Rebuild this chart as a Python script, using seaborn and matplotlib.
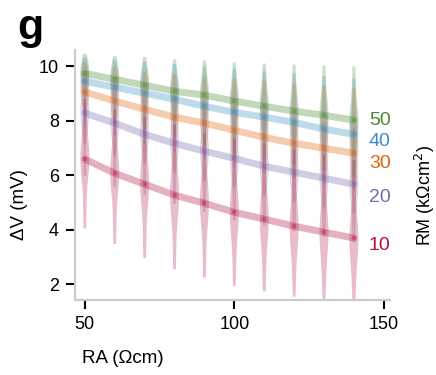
import numpy as np
import pandas as pd
import matplotlib
matplotlib.use("Agg")
import matplotlib.pyplot as plt
import seaborn as sns

sns.set_theme(style="ticks")
plt.rcParams["font.family"] = ["Liberation Sans", "DejaVu Sans"]
plt.rcParams["text.color"] = "black"
plt.rcParams["axes.labelcolor"] = "black"
plt.rcParams["xtick.color"] = "black"
plt.rcParams["ytick.color"] = "black"

# Axial resistance values (Ohm cm)
ra = [50, 60, 70, 80, 90, 100, 110, 120, 130, 140]
# Membrane resistance series (kOhm cm^2)
rm_levels = [10, 20, 30, 40, 50]

# Mean voltage deflection (mV) per RM series
mean_10 = [6.59, 6.07, 5.67, 5.27, 4.97, 4.64, 4.39, 4.13, 3.91, 3.69]
mean_20 = [8.28, 7.91, 7.50, 7.17, 6.88, 6.62, 6.33, 6.11, 5.89, 5.67]
mean_30 = [9.05, 8.72, 8.42, 8.13, 7.91, 7.65, 7.39, 7.17, 6.99, 6.81]
mean_40 = [9.45, 9.23, 9.01, 8.79, 8.53, 8.31, 8.13, 7.94, 7.69, 7.50]
mean_50 = [9.74, 9.52, 9.30, 9.08, 8.94, 8.72, 8.53, 8.35, 8.20, 8.02]

# Lowest and highest deflection in each distribution
low_10 = [4.45, 3.9, 3.4, 3.0, 2.7, 2.4, 2.2, 2.0, 1.82, 1.68]
high_10 = [8.4, 8.0, 7.7, 7.4, 7.1, 6.9, 6.7, 6.5, 6.3, 6.1]
low_20 = [6.3, 5.9, 5.6, 5.3, 5.0, 4.7, 4.5, 4.3, 4.1, 3.9]
high_20 = [9.4, 9.1, 8.8, 8.6, 8.4, 8.2, 8.0, 7.8, 7.6, 7.4]
low_30 = [7.4, 7.0, 6.7, 6.4, 6.1, 5.9, 5.6, 5.4, 5.2, 5.0]
high_30 = [9.9, 9.7, 9.5, 9.4, 9.3, 9.2, 9.1, 9.0, 8.9, 8.8]
low_40 = [8.0, 7.7, 7.4, 7.1, 6.9, 6.6, 6.4, 6.2, 6.0, 5.8]
high_40 = [10.1, 10.0, 9.9, 9.8, 9.7, 9.6, 9.5, 9.4, 9.3, 9.2]
low_50 = [8.4, 8.1, 7.8, 7.6, 7.4, 7.1, 6.9, 6.7, 6.5, 6.3]
high_50 = [10.25, 10.15, 10.1, 10.0, 9.95, 9.85, 9.8, 9.75, 9.7, 9.65]

means = [mean_10, mean_20, mean_30, mean_40, mean_50]
lows = [low_10, low_20, low_30, low_40, low_50]
highs = [high_10, high_20, high_30, high_40, high_50]

colors = {10: "#b3123c", 20: "#7a68ad", 30: "#e0640f", 40: "#3a8fc4", 50: "#4a8a2c"}

# Long-form tables
rows = []
mrows = []
for rm, m_list, lo_list, hi_list in zip(rm_levels, means, lows, highs):
    for x, m, lo, hi in zip(ra, m_list, lo_list, hi_list):
        for v in (lo, m, m, m, hi):
            rows.append({"RA": x, "RM": rm, "dV": v})
        mrows.append({"RA": x, "RM": rm, "dV": m})
dist = pd.DataFrame(rows)
mean_df = pd.DataFrame(mrows)

fig = plt.figure(figsize=(4.36, 3.75), dpi=100)
ax = fig.add_axes([0.172, 0.2, 0.722, 0.667])

sns.violinplot(data=dist, x="RA", y="dV", hue="RM", hue_order=rm_levels[::-1],
               palette=colors, native_scale=True, dodge=False, width=0.3,
               inner=None, cut=0.5, bw_adjust=0.8, density_norm="width",
               linewidth=0, saturation=1, legend=False, ax=ax)
for coll in ax.collections:
    coll.set_alpha(0.28)
    coll.set_edgecolor("none")

sns.lineplot(data=mean_df, x="RA", y="dV", hue="RM", hue_order=rm_levels[::-1],
             palette=colors, linewidth=5, alpha=0.33, marker="s", markersize=3.5,
             markeredgewidth=0, legend=False, ax=ax)

ax.set_xlim(46.7, 152)
ax.set_ylim(1.42, 10.6)
ax.set_xticks([50, 100, 150])
ax.set_yticks([2, 4, 6, 8, 10])
ax.tick_params(axis="both", labelsize=13, length=6.5, width=1.5, color="black",
               pad=5)
for side in ("top", "right"):
    ax.spines[side].set_visible(False)
for side in ("left", "bottom"):
    ax.spines[side].set_color("#cccccc")
    ax.spines[side].set_linewidth(1.6)

ax.set_xlabel("RA (Ωcm)", fontsize=13.5)
ax.set_ylabel("ΔV (mV)", fontsize=13.5)
ax.xaxis.set_label_coords(0.152, -0.2)
ax.yaxis.set_label_coords(-0.15, 0.38)

# RM labels at the end of each curve
label_y = {50: 8.02, 40: 7.22, 30: 6.44, 20: 5.19, 10: 3.43}
for rm in rm_levels:
    ax.text(145, label_y[rm], str(rm), color=colors[rm], fontsize=14,
            ha="left", va="center", clip_on=False)

fig.text(0.975, 0.48, "RM (kΩcm$^{2}$)", rotation=90, fontsize=13,
         ha="center", va="center")
fig.text(0.04, 0.98, "g", fontsize=31, fontweight="bold", ha="left", va="top")

fig.savefig("out.png", dpi=100)
